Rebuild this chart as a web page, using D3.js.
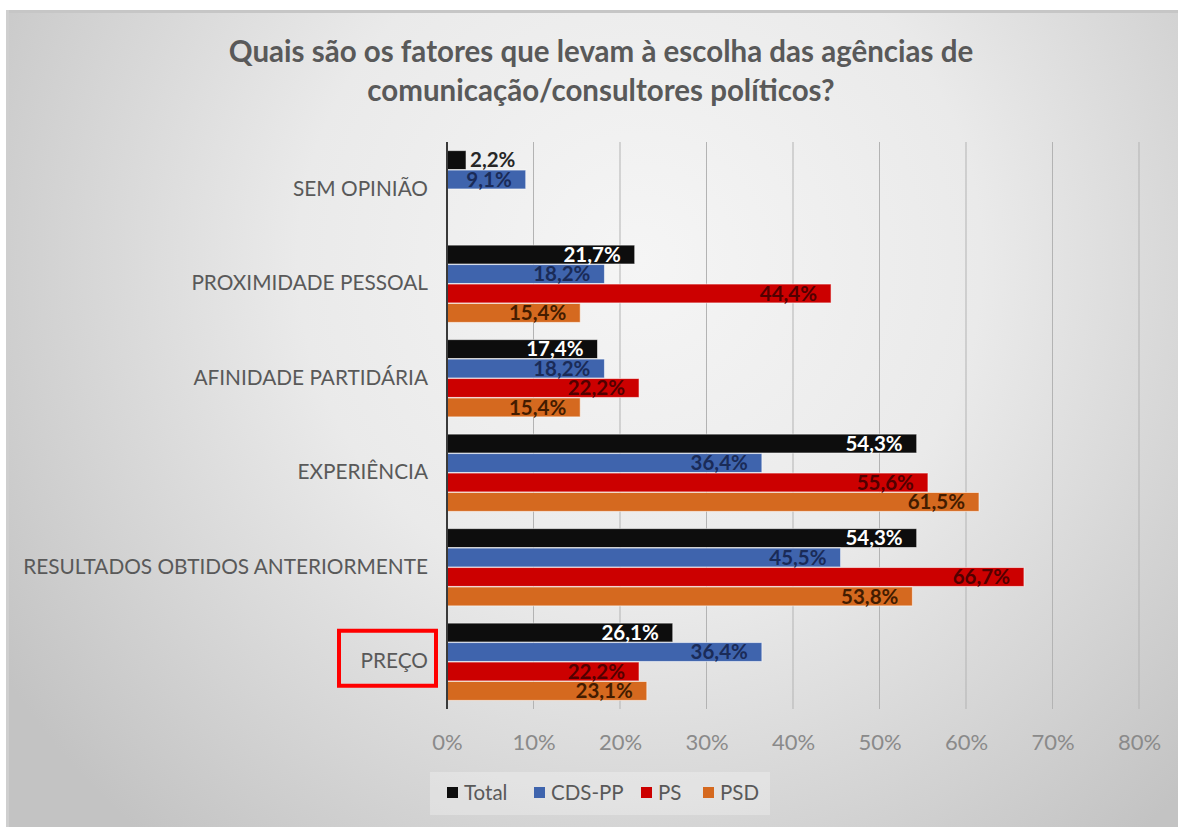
<!DOCTYPE html>
<html>
<head>
<meta charset="utf-8">
<script src="https://cdn.jsdelivr.net/npm/d3@7/dist/d3.min.js"></script>
<style>
  html, body { margin: 0; padding: 0; background: #ffffff; }
  svg { display: block; }
</style>
</head>
<body>
<svg id="chart" width="1178" height="827"></svg>
<script>
// Categories, top to bottom
const categories = [
  "SEM OPINIÃO",
  "PROXIMIDADE PESSOAL",
  "AFINIDADE PARTIDÁRIA",
  "EXPERIÊNCIA",
  "RESULTADOS OBTIDOS ANTERIORMENTE",
  "PREÇO"
];
const seriesNames = ["Total", "CDS-PP", "PS", "PSD"];

// Percentages per series (null = no answer recorded)
const totalValues = [2.2, 21.7, 17.4, 54.3, 54.3, 26.1];
const cdsppValues = [9.1, 18.2, 18.2, 36.4, 45.5, 36.4];
const psValues    = [null, 44.4, 22.2, 55.6, 66.7, 22.2];
const psdValues   = [null, 15.4, 15.4, 61.5, 53.8, 23.1];

const tickValues = [0, 10, 20, 30, 40, 50, 60, 70, 80];
const titleLines = [
  "Quais são os fatores que levam à escolha das agências de",
  "comunicação/consultores  políticos?"
];
const highlighted = "PREÇO";

const seriesValues = [totalValues, cdsppValues, psValues, psdValues];
const barColors   = ["#0d0d0d", "#3f64ad", "#cc0000", "#d5691f"];
const labelColors = ["#ffffff", "#1a2b58", "#520000", "#431c00"];

const W = 1178, H = 827;
const svg = d3.select("#chart");
const FONT = "Lato, 'Open Sans', sans-serif";

// Panel background
const defs = svg.append("defs");
const rg = defs.append("radialGradient")
  .attr("id", "bg").attr("gradientUnits", "userSpaceOnUse")
  .attr("cx", 640).attr("cy", 260).attr("r", 760);
rg.append("stop").attr("offset", 0).attr("stop-color", "#f5f5f5");
rg.append("stop").attr("offset", 0.45).attr("stop-color", "#eaeaea");
rg.append("stop").attr("offset", 1).attr("stop-color", "#c3c3c3");

svg.append("rect").attr("x", 6).attr("y", 10).attr("width", W - 6).attr("height", H - 10)
  .attr("fill", "url(#bg)");
svg.append("rect").attr("x", 6).attr("y", 10).attr("width", W - 6).attr("height", 3)
  .attr("fill", "#c6c6c6");
svg.append("rect").attr("x", 6).attr("y", 10).attr("width", 3).attr("height", H - 10)
  .attr("fill", "#cfcfcf");

// Title
svg.append("g").selectAll("text").data(titleLines).join("text")
  .attr("x", 601).attr("y", (d, i) => 62 + i * 39)
  .attr("text-anchor", "middle")
  .attr("font-family", FONT).attr("font-weight", 700).attr("font-size", 29.5)
  .attr("fill", "#595959")
  .text(d => d);

// Scales
const x = d3.scaleLinear().domain([0, 80]).range([447, 1139]);
const y = d3.scaleBand().domain(categories).range([142, 709])
  .paddingInner(0.17).paddingOuter(0.085);
const ySub = d3.scaleBand().domain(seriesNames).range([0, y.bandwidth()]).padding(0.03);

// Gridlines
svg.append("g").selectAll("line").data(tickValues.filter(t => t > 0)).join("line")
  .attr("x1", d => x(d)).attr("x2", d => x(d))
  .attr("y1", 142).attr("y2", 709)
  .attr("stroke", "#b3b3b3").attr("stroke-width", 1);

// Tick labels via axis
const xAxis = d3.axisBottom(x).tickValues(tickValues).tickSize(0).tickPadding(0)
  .tickFormat(d => d + "%");
const ax = svg.append("g").attr("transform", "translate(0,750)").call(xAxis);
ax.select(".domain").remove();
ax.selectAll("text")
  .attr("font-family", FONT).attr("font-size", 22).attr("fill", "#8a8a8a")
  .attr("dy", 0).attr("y", 0);

// Bars
const rows = [];
categories.forEach((c, ci) => {
  seriesNames.forEach((s, si) => {
    const v = seriesValues[si][ci];
    if (v != null) rows.push({ cat: c, series: s, si, v });
  });
});

const gBars = svg.append("g");
gBars.selectAll("rect").data(rows).join("rect")
  .attr("x", x(0))
  .attr("y", d => y(d.cat) + ySub(d.series))
  .attr("width", d => x(d.v) - x(0))
  .attr("height", ySub.bandwidth())
  .attr("fill", d => barColors[d.si])
  .attr("stroke", "rgba(255,255,255,0.55)").attr("stroke-width", 1);

// Value labels (inside end; outside when the bar is too short)
const fmt = v => v.toFixed(1).replace(".", ",") + "%";
gBars.selectAll("text").data(rows).join("text")
  .each(function (d) {
    const t = d3.select(this);
    const w = x(d.v) - x(0);
    const inside = w > 60;
    t.attr("x", inside ? x(d.v) - 14 : x(d.v) + 4)
     .attr("text-anchor", inside ? "end" : "start")
     .attr("fill", inside ? labelColors[d.si] : "#262626");
  })
  .attr("y", d => y(d.cat) + ySub(d.series) + ySub.bandwidth() / 2)
  .attr("dy", "0.36em")
  .attr("font-family", FONT).attr("font-weight", 700).attr("font-size", 20.5)
  .text(d => fmt(d.v));

// Vertical category axis
svg.append("line").attr("x1", x(0)).attr("x2", x(0)).attr("y1", 142).attr("y2", 709)
  .attr("stroke", "#3a3a3a").attr("stroke-width", 2);

const yAxis = d3.axisLeft(y).tickSize(0).tickPadding(19);
const ay = svg.append("g").attr("transform", `translate(${x(0)},0)`).call(yAxis);
ay.select(".domain").remove();
ay.selectAll("text")
  .attr("font-family", FONT).attr("font-size", 20.8).attr("fill", "#595959");

// Highlight frame around one category label
const hy = y(highlighted) + y.bandwidth() / 2;
svg.append("rect").attr("x", 339).attr("y", hy - 31).attr("width", 97).attr("height", 55)
  .attr("fill", "none").attr("stroke", "#ff0000").attr("stroke-width", 4);

// Legend
const legend = svg.append("g");
legend.append("rect").attr("x", 430).attr("y", 772).attr("width", 340).attr("height", 43)
  .attr("fill", "rgba(255,255,255,0.28)");
const legX = [447, 534, 641, 703];
const li = legend.selectAll("g.item").data(seriesNames).join("g").attr("class", "item")
  .attr("transform", (d, i) => `translate(${legX[i]},793)`);
li.append("rect").attr("x", 0).attr("y", -6).attr("width", 11).attr("height", 11)
  .attr("fill", (d, i) => barColors[i]);
li.append("text").attr("x", 17).attr("y", 0).attr("dy", "0.36em")
  .attr("font-family", FONT).attr("font-size", 20.5).attr("fill", "#595959")
  .text(d => d);
</script>
</body>
</html>
